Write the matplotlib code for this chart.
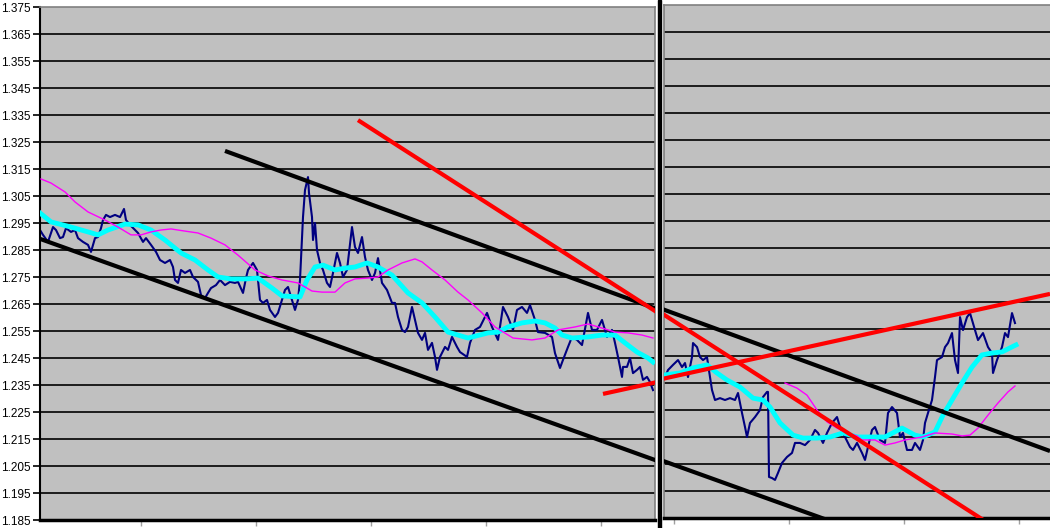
import numpy as np
import matplotlib.pyplot as plt
from matplotlib.patches import Rectangle

# price series (bar index, price)
blue_l_t = [40, 43, 48, 53, 56, 60, 63, 66, 71, 75, 78, 83, 88, 91, 95, 98, 101, 103, 106, 110,
            115, 120, 124, 126, 130, 135, 138, 143, 146, 151, 156, 160, 165, 170, 173, 175, 178, 181, 185, 190,
            193, 198, 201, 205, 208, 211, 216, 220, 225, 230, 235, 238, 243, 246, 248, 253, 257, 260, 263, 267,
            270, 275, 278, 282, 285, 288, 292, 295, 298, 300, 302, 303, 305, 308, 309, 312, 313, 315, 317, 320,
            323, 327, 330, 333, 337, 340, 343, 347, 352, 355, 358, 362, 365, 368, 372, 375, 378, 382, 387, 392,
            395, 398, 402, 405, 408, 412, 415, 418, 422, 425, 428, 432, 435, 437, 440, 445, 448, 452, 457, 460,
            467, 470, 475, 480, 487, 492, 498, 503, 508, 513, 517, 522, 527, 530, 535, 538, 545, 552, 555, 560,
            563, 568, 572, 577, 582, 588, 592, 597, 602, 607, 612, 615, 618, 622, 623, 627, 630, 633, 637, 640,
            643, 647, 650, 653]
blue_l_p = [1.2924, 1.2906, 1.2880, 1.2935, 1.2924, 1.2894, 1.2898, 1.2931, 1.2917, 1.2924,
            1.2894, 1.2880, 1.2869, 1.2843, 1.2894, 1.2898, 1.2931, 1.2961, 1.2980, 1.2972,
            1.2980, 1.2972, 1.3002, 1.2961, 1.2943, 1.2924, 1.2913, 1.2880, 1.2894, 1.2869,
            1.2843, 1.2813, 1.2802, 1.2813, 1.2787, 1.2739, 1.2728, 1.2776, 1.2765, 1.2776,
            1.2750, 1.2732, 1.2683, 1.2672, 1.2691, 1.2709, 1.2720, 1.2739, 1.2720, 1.2732,
            1.2728, 1.2732, 1.2691, 1.2746, 1.2776, 1.2802, 1.2776, 1.2665, 1.2654, 1.2665,
            1.2628, 1.2602, 1.2617, 1.2665, 1.2702, 1.2713, 1.2665, 1.2628, 1.2665, 1.2739,
            1.2898, 1.2972, 1.3072, 1.3120, 1.3061, 1.2972, 1.2887, 1.2950, 1.2850, 1.2802,
            1.2776, 1.2728, 1.2713, 1.2765, 1.2839, 1.2802, 1.2750, 1.2776, 1.2935, 1.2861,
            1.2839, 1.2898, 1.2824, 1.2776, 1.2739, 1.2765, 1.2820, 1.2728, 1.2702, 1.2654,
            1.2654, 1.2602, 1.2554, 1.2546, 1.2565, 1.2639, 1.2591, 1.2543, 1.2517, 1.2543,
            1.2480, 1.2506, 1.2454, 1.2406, 1.2454, 1.2491, 1.2480, 1.2528, 1.2491, 1.2472,
            1.2454, 1.2506, 1.2554, 1.2565, 1.2617, 1.2565, 1.2517, 1.2639, 1.2602, 1.2554,
            1.2628, 1.2639, 1.2617, 1.2646, 1.2591, 1.2546, 1.2543, 1.2528, 1.2468, 1.2413,
            1.2443, 1.2491, 1.2528, 1.2517, 1.2498, 1.2617, 1.2554, 1.2554, 1.2591, 1.2528,
            1.2554, 1.2506, 1.2454, 1.2380, 1.2417, 1.2417, 1.2450, 1.2394, 1.2406, 1.2417,
            1.2369, 1.2380, 1.2361, 1.2331]

blue_r_t = [665, 668, 673, 678, 682, 685, 688, 692, 693, 697, 700, 703, 707, 710, 712, 715, 720, 725, 730, 735,
            738, 742, 745, 747, 750, 755, 760, 763, 767, 768, 769, 772, 775, 778, 782, 787, 792, 795, 800, 805,
            810, 815, 818, 823, 827, 832, 837, 840, 845, 850, 853, 857, 862, 865, 868, 872, 875, 880, 885, 888,
            892, 897, 900, 903, 907, 912, 915, 920, 923, 925, 928, 932, 935, 937, 942, 945, 948, 952, 955, 958,
            960, 963, 967, 970, 975, 978, 983, 988, 992, 993, 997, 1002, 1005, 1008, 1012, 1015]
blue_r_p = [1.2372, 1.2398, 1.2417, 1.2435, 1.2409, 1.2424, 1.2372, 1.2446, 1.2498, 1.2483,
            1.2446, 1.2435, 1.2446, 1.2372, 1.2324, 1.2287, 1.2294, 1.2287, 1.2294, 1.2287,
            1.2313, 1.2239, 1.2187, 1.2150, 1.2202, 1.2224, 1.2250, 1.2298, 1.2317, 1.2317,
            1.2002, 1.1998, 1.1991, 1.2017, 1.2054, 1.2076, 1.2091, 1.2128, 1.2128, 1.2120,
            1.2139, 1.2176, 1.2165, 1.2128, 1.2165, 1.2202, 1.2224, 1.2187, 1.2150, 1.2113,
            1.2102, 1.2128, 1.2091, 1.2065, 1.2113, 1.2176, 1.2187, 1.2139, 1.2128, 1.2239,
            1.2261, 1.2239, 1.2150, 1.2165, 1.2102, 1.2102, 1.2128, 1.2102, 1.2139, 1.2202,
            1.2239, 1.2287, 1.2372, 1.2435, 1.2446, 1.2483, 1.2498, 1.2535, 1.2435, 1.2387,
            1.2594, 1.2546, 1.2594, 1.2609, 1.2546, 1.2509, 1.2535, 1.2483, 1.2461, 1.2387,
            1.2435, 1.2483, 1.2535, 1.2520, 1.2609, 1.2572]

# fast moving average (cyan)
cyan_t = [40, 51, 71, 88, 98, 108, 125, 138, 151, 165, 181, 195, 208, 218, 231, 246, 258, 272, 282, 300,
          307, 315, 323, 335, 345, 355, 367, 378, 392, 408, 422, 435, 448, 458, 468, 488, 498, 508, 522, 535,
          545, 555, 562, 572, 588, 602, 615, 625, 637, 648, 653,
          665, 680, 693, 707, 717, 727, 740, 753, 763, 770, 780, 793, 803, 817, 830, 843, 857, 872, 885, 902,
          915, 923, 935, 943, 952, 962, 972, 982, 992, 1002, 1010, 1016]
cyan_p = [1.2987, 1.2954, 1.2935, 1.2917, 1.2906, 1.2924, 1.2946, 1.2943, 1.2924, 1.2887,
          1.2839, 1.2813, 1.2776, 1.2750, 1.2743, 1.2743, 1.2746, 1.2709, 1.2680, 1.2676,
          1.2739, 1.2787, 1.2794, 1.2776, 1.2783, 1.2787, 1.2802, 1.2787, 1.2757, 1.2691,
          1.2654, 1.2602, 1.2546, 1.2535, 1.2524, 1.2543, 1.2546, 1.2565, 1.2580, 1.2587,
          1.2580, 1.2561, 1.2535, 1.2524, 1.2528, 1.2535, 1.2535, 1.2506, 1.2472, 1.2450, 1.2435,
          1.2380, 1.2387, 1.2406, 1.2417, 1.2387, 1.2361, 1.2335, 1.2294, 1.2287, 1.2261,
          1.2202, 1.2157, 1.2146, 1.2146, 1.2150, 1.2165, 1.2150, 1.2150, 1.2150, 1.2183,
          1.2157, 1.2150, 1.2169, 1.2231, 1.2287, 1.2350, 1.2409, 1.2454, 1.2461, 1.2465,
          1.2480, 1.2491]

# slow moving average (magenta)
mag_l_t = [41, 51, 65, 75, 88, 105, 118, 131, 141, 151, 161, 171, 185, 198, 211, 225, 238, 247, 255, 268,
           282, 298, 312, 322, 335, 345, 355, 368, 378, 388, 402, 415, 422, 432, 445, 458, 468, 482, 495, 513,
           532, 545, 558, 575, 588, 602, 615, 628, 642, 653]
mag_l_p = [1.3113, 1.3098, 1.3065, 1.3028, 1.2991, 1.2961, 1.2935, 1.2906, 1.2906, 1.2917,
           1.2924, 1.2928, 1.2920, 1.2913, 1.2894, 1.2869, 1.2831, 1.2802, 1.2776, 1.2754,
           1.2739, 1.2728, 1.2698, 1.2694, 1.2694, 1.2728, 1.2743, 1.2746, 1.2750, 1.2776,
           1.2802, 1.2817, 1.2806, 1.2776, 1.2739, 1.2694, 1.2665, 1.2617, 1.2565, 1.2524,
           1.2517, 1.2524, 1.2554, 1.2565, 1.2576, 1.2561, 1.2546, 1.2543, 1.2535, 1.2524]
mag_r_t = [785, 797, 807, 817, 827, 837, 847, 857, 862, 875, 885, 895, 905, 922, 935, 952, 962, 970, 978, 988,
           998, 1008, 1015]
mag_r_p = [1.2350, 1.2331, 1.2305, 1.2250, 1.2206, 1.2183, 1.2165, 1.2154, 1.2139, 1.2139,
           1.2120, 1.2128, 1.2139, 1.2150, 1.2165, 1.2161, 1.2154, 1.2157, 1.2183, 1.2231,
           1.2276, 1.2317, 1.2339]

# hand drawn trend lines: (t0, p0, t1, p1)
channel_upper = (225, 1.3217, 1050, 1.2098)
channel_lower = (38, 1.2894, 830, 1.1839)
red_down = (358, 1.3331, 1000, 1.1803)
red_up = (603, 1.2317, 1050, 1.2680)

yticks = np.arange(1.185, 1.3751, 0.01)
xticks_l = [141, 256, 371, 486, 601]
xticks_r = [674, 789, 904, 1019]

BG = '#C0C0C0'
fig = plt.figure(figsize=(10.5, 5.28), dpi=100)
W, H = 1050.0, 528.0
axL = fig.add_axes([40 / W, (H - 520) / H, 615 / W, 513 / H])
axR = fig.add_axes([664 / W, (H - 518) / H, 390 / W, 513 / H])

for ax in (axL, axR):
    ax.set_facecolor(BG)
    ax.set_ylim(1.185, 1.375)
    ax.set_yticks(yticks)
    for y in yticks[1:-1]:
        ax.axhline(y, color='black', lw=1.2, zorder=1)
    for s in ('top', 'right', 'left'):
        ax.spines[s].set_color('#808080')
        ax.spines[s].set_linewidth(1.2)
    ax.spines['bottom'].set_color('black')
    ax.spines['bottom'].set_linewidth(2.5)
    ax.tick_params(axis='x', length=4, width=1, color='#A0A0A0', labelbottom=False)
    for ln, c in ((channel_upper, 'black'), (channel_lower, 'black'), (red_down, 'red'), (red_up, 'red')):
        ax.plot([ln[0], ln[2]], [ln[1], ln[3]], color=c, lw=3, zorder=4, solid_capstyle='butt')

axL.set_xlim(40, 655)
axR.set_xlim(664, 1054)
axL.set_xticks(xticks_l)
axR.set_xticks(xticks_r)

axL.plot(blue_l_t, blue_l_p, color='#000080', lw=1.5, zorder=2)
axR.plot(blue_r_t, blue_r_p, color='#000080', lw=1.5, zorder=2)
cyan_t = np.array(cyan_t)
cyan_p = np.array(cyan_p)
axL.plot(cyan_t[cyan_t < 660], cyan_p[cyan_t < 660], color='#00FFFF', lw=3.5, zorder=3)
axR.plot(cyan_t[cyan_t > 660], cyan_p[cyan_t > 660], color='#00FFFF', lw=3.5, zorder=3)
axL.plot(mag_l_t, mag_l_p, color='#FF00FF', lw=1, zorder=3)
axR.plot(mag_r_t, mag_r_p, color='#FF00FF', lw=1, zorder=3)

axL.spines['left'].set_color('black')
axL.spines['left'].set_linewidth(1.5)
axL.set_yticklabels(['%.3f' % v for v in yticks], fontfamily='Liberation Sans', fontsize=8.5)
axL.tick_params(axis='y', length=5, width=1.2, pad=2)
axR.tick_params(axis='y', length=0, labelleft=False)

# divider between the two screenshots
fig.add_artist(Rectangle((658 / W, 0), 3 / W, 1, transform=fig.transFigure, color='black'))

fig.savefig('out.png', dpi=100)
